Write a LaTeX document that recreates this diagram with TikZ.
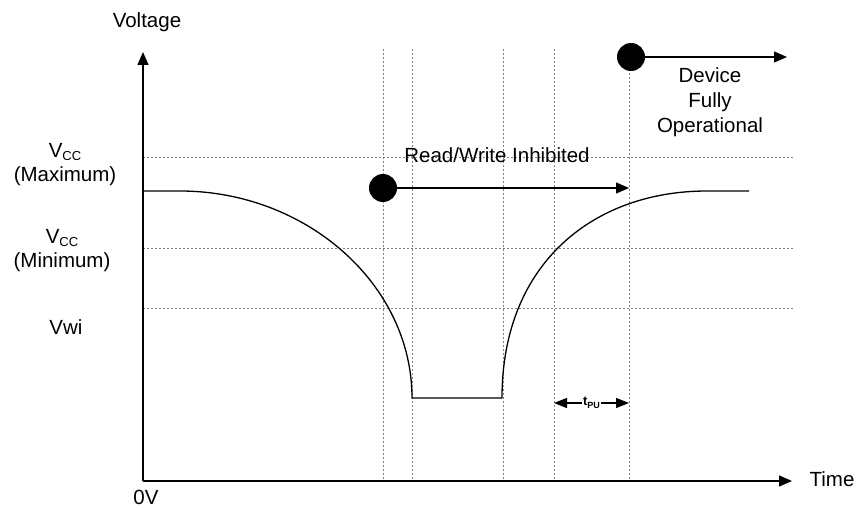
\documentclass[tikz,border=0pt]{standalone}
\usepackage{fontspec}
\setmainfont{Liberation Sans}
\usetikzlibrary{arrows.meta}
\newcommand{\mysub}[2]{\raisebox{-2.5pt}{\fontsize{#1}{#1}\selectfont #2}}
\begin{document}
\begin{tikzpicture}[x=1pt,y=-1pt,
  lbl/.style={font=\fontsize{20.5}{24}\selectfont, align=center, inner sep=0pt},
  gridline/.style={draw=gray, line width=0.8pt, dash pattern=on 2pt off 2pt},
  axis/.style={line width=1.4pt, -{Triangle[length=13pt,width=11pt]}},
  sig/.style={line width=1.3pt},
  dot/.style={circle, fill=black, minimum size=28pt, inner sep=0pt},
  flow/.style={line width=1.3pt, -{Triangle[length=13pt,width=11pt]}},
  tpu/.style={line width=1.1pt, {Triangle[length=13pt,width=10pt]}-{Triangle[length=13pt,width=10pt]}},
]
\useasboundingbox (0,0) rectangle (857,508);
% grid
\foreach \yy in {157,248,308} \draw[gridline] (143,\yy) -- (793,\yy);
\foreach \xx in {383,412,503,554,629} \draw[gridline] (\xx,49) -- (\xx,481);
% axes
\coordinate (O) at (143,481);
\coordinate (ytop) at (143,52);
\coordinate (xend) at (792,481);
\draw[axis] (O) -- (ytop);
\draw[axis] (O) -- (xend);
% signal
\draw[sig] (143,191) -- (180,191)
  .. controls (306,191) and (412,284) .. (412,398)
  -- (502,398)
  .. controls (502,263) and (594,191) .. (707,191) -- (749,191);
% labels
\node[lbl] (voltage) at (147,22) {Voltage};
\node[lbl] (time) at (832,479) {Time};
\node[lbl] (zero) at (146,497) {0V};
\node[lbl] (vmax) at (65,165) {V\mysub{13}{CC}\\(Maximum)};
\node[lbl] (vmin) at (62,251) {V\mysub{13}{CC}\\(Minimum)};
\node[lbl] (vwi) at (66,327) {Vwi};
\node[lbl, font=\fontsize{20.5}{25}\selectfont] (dev) at (710,102) {Device\\Fully\\Operational};
\node[lbl] (rw) at (497,155) {Read/Write Inhibited};
% dots and arrows
\node[dot] (d1) at (383,188) {};
\coordinate (e1) at (629,188);
\draw[flow] (d1) -- (e1);
\node[dot] (d2) at (631,57) {};
\coordinate (e2) at (787,57);
\draw[flow] (d2) -- (e2);
% tPU
\coordinate (t1) at (554,403);
\coordinate (t2) at (629,403);
\draw[tpu] (t1) -- node[fill=white, inner sep=1pt, font=\bfseries\fontsize{13}{13}\selectfont] (tlbl) {t\mysub{9}{PU}} (t2);
\end{tikzpicture}
\end{document}
